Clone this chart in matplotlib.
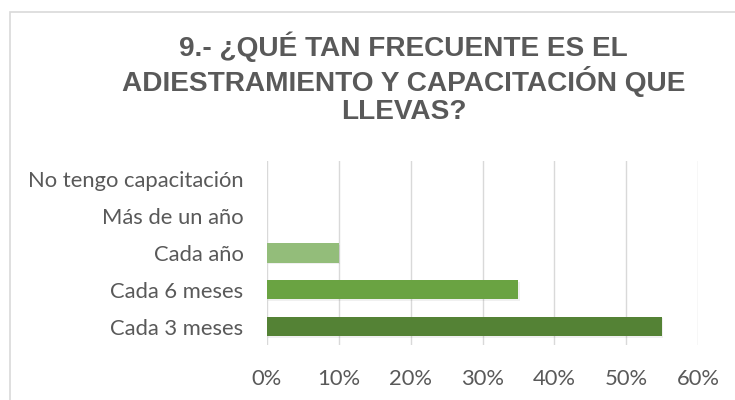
import matplotlib.pyplot as plt
from matplotlib.patches import Rectangle
import matplotlib.patheffects as pe

# data
categorias = ["Cada 3 meses", "Cada 6 meses", "Cada año", "Más de un año", "No tengo capacitación"]
valores = [0.55, 0.35, 0.10, 0.0, 0.0]
colores = ["#548235", "#6AA342", "#93BD7A", "#B5D2A4", "#CFE1C4"]
ticks = [0, 0.1, 0.2, 0.3, 0.4, 0.5, 0.6]
titulo = "9.- ¿QUÉ TAN FRECUENTE ES EL\nADIESTRAMIENTO Y CAPACITACIÓN QUE\nLLEVAS?"

gris = "#595959"

fig = plt.figure(figsize=(7.35, 4.0), dpi=100)

# chart border
fig.patches.append(Rectangle((9.5 / 735, -0.05), 1.0, 1 - 11.5 / 400 + 0.05,
                             transform=fig.transFigure, fill=False,
                             edgecolor="#D9D9D9", linewidth=1.2))

ax = fig.add_axes([267 / 735, 1 - 345 / 400, (698 - 267) / 735, (345 - 161) / 400])

y = range(len(categorias))
bars = ax.barh(y, valores, height=0.52, color=colores, zorder=3)
for b in bars:
    b.set_path_effects([pe.SimplePatchShadow(offset=(1, -1), shadow_rgbFace="#000000", alpha=0.06),
                        pe.Normal()])

ax.set_xlim(0, 0.6)
ax.set_ylim(-0.5, len(categorias) - 0.5)
ax.set_xticks(ticks)
ax.set_xticklabels([f"{int(round(t * 100))}%" for t in ticks])
ax.set_yticks(list(y))
ax.set_yticklabels(categorias)

ax.grid(axis="x", color="#D9D9D9", linewidth=1.0, zorder=0)
for s in ax.spines.values():
    s.set_visible(False)
ax.tick_params(axis="both", length=0, colors=gris, labelsize=15.8)
ax.tick_params(axis="x", pad=17)
ax.tick_params(axis="y", pad=17)
for lbl in ax.get_xticklabels() + ax.get_yticklabels():
    lbl.set_fontfamily("Lato")

fig.text(0.549, 1 - 78.5 / 400, titulo, ha="center", va="center", fontsize=20.2,
         fontweight="bold", color=gris, family="Liberation Sans", linespacing=1.14)

fig.savefig("out.png", dpi=100, facecolor="white")
